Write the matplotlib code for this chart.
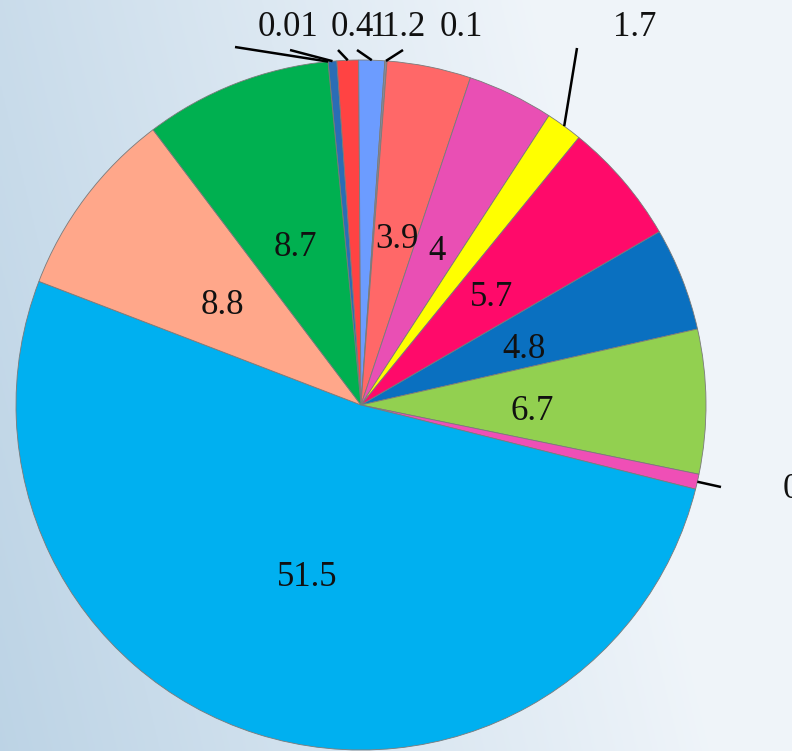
import numpy as np
import matplotlib
matplotlib.use("Agg")
import matplotlib.pyplot as plt

# Shares of each category, clockwise from the top
values = [0.01, 0.4, 1, 1.2, 0.1, 3.9, 4, 1.7, 5.7, 4.8, 6.7, 0.7, 51.5, 8.8, 8.7]
labels = ["0.01", "0.4", "1", "1.2", "0.1", "3.9", "4", "1.7", "5.7", "4.8",
          "6.7", "0.7", "51.5", "8.8", "8.7"]
colors = ["#2a6db5", "#2a6db5", "#ff4343", "#6c9cff", "#8a8a9a", "#ff6868",
          "#e94fb4", "#ffff00", "#ff0a6a", "#0a70c0", "#92d050", "#ef4fb6",
          "#00b0f0", "#ffa78a", "#00b050"]

W, H = 792, 751
CX, CY, R = 361, 405, 345


def px(x, y):
    """Pixel position -> data position (pie radius = 1)."""
    return (x - CX) / R, (CY - y) / R


fig = plt.figure(figsize=(W / 100, H / 100), dpi=100)

# soft photographic backdrop
bg = fig.add_axes([0, 0, 1, 1], zorder=0)
gx = np.linspace(0, 1, 300)
gy = np.linspace(0, 1, 300)
GX, GY = np.meshgrid(gx, gy)
c_left = np.array([0.74, 0.83, 0.90])
c_right = np.array([0.94, 0.96, 0.98])
t = np.clip(GX * 1.1 + 0.25 * GY, 0, 1)[..., None]
img = c_left * (1 - t) + c_right * t
bg.imshow(img, extent=[0, 1, 0, 1], aspect="auto", origin="lower")
bg.axis("off")

ax = fig.add_axes([0, 0, 1, 1], zorder=1)
wedges, _ = ax.pie(values, colors=colors, startangle=95.5, counterclock=False,
                   radius=1, center=(0, 0), frame=True,
                   wedgeprops=dict(edgecolor="#7a7a7a", linewidth=0.6))
ax.set_xlim(px(0, 0)[0], px(W, 0)[0])
ax.set_ylim(px(0, H)[1], px(0, 0)[1])
ax.axis("off")
ax.patch.set_alpha(0)

font = dict(family="Liberation Serif", fontsize=25, color="#111111")

# labels inside the wedges
inside = {
    "3.9": (397, 240), "4": (437, 252), "5.7": (492, 298), "4.8": (524, 350),
    "6.7": (532, 412), "51.5": (307, 578), "8.8": (222, 305), "8.7": (295, 248),
}
for lab, (x, y) in inside.items():
    ax.text(*px(x, y), lab, ha="center", va="center", **font)

# labels outside with leader lines
outside = {
    "0.01": ((288, 28), (235, 47)),
    "0.4": ((352, 28), (290, 50)),
    "1": ((379, 28), (338, 50)),
    "1.2": ((404, 28), (357, 50)),
    "0.1": ((461, 28), (403, 50)),
    "1.7": ((635, 28), (577, 48)),
    "0.7": ((783, 490), (721, 487)),
}
for i, lab in enumerate(labels):
    if lab not in outside:
        continue
    w = wedges[i]
    ang = np.deg2rad((w.theta1 + w.theta2) / 2)
    end = (np.cos(ang), np.sin(ang))
    (tx, ty), (sx, sy) = outside[lab]
    ax.plot([px(sx, sy)[0], end[0]], [px(sx, sy)[1], end[1]],
            color="black", lw=1.8, solid_capstyle="butt", zorder=5)
    ha = "left" if lab == "0.7" else "center"
    ax.text(*px(tx, ty), lab, ha=ha, va="center", zorder=6, **font)

fig.savefig("out.png", dpi=100)
